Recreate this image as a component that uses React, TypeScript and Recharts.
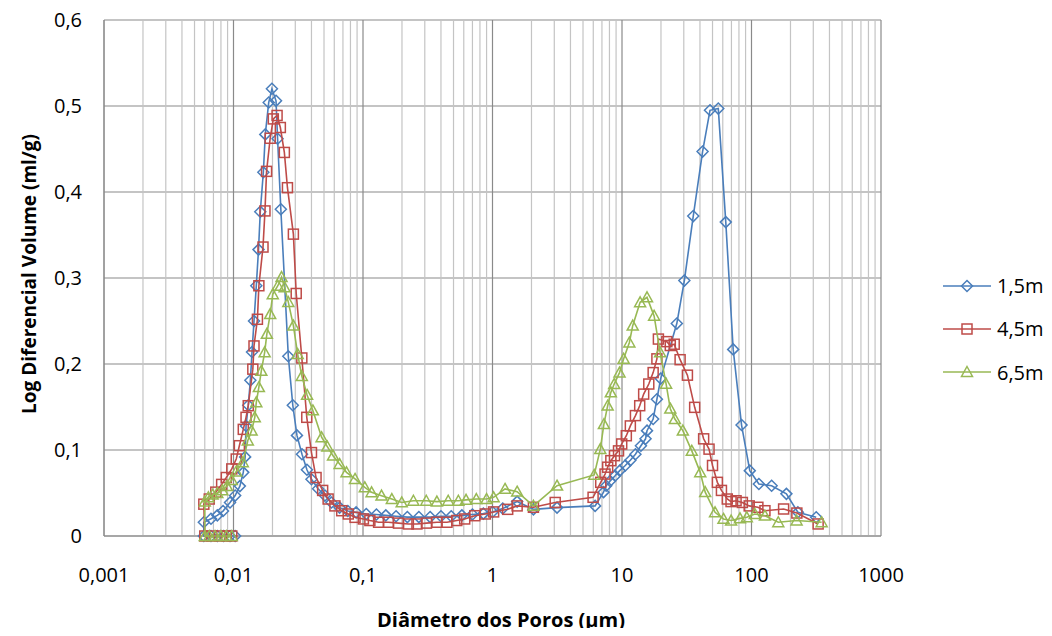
import React from "react";
import { ScatterChart, Scatter, XAxis, YAxis, CartesianGrid, ReferenceLine } from "recharts";

// diameter (µm), log differential volume (ml/g)
const poros15: [number, number][] = [
  [0.0103, 0], [0.0094, 0], [0.0084, 0], [0.0075, 0], [0.0067, 0], [0.0059, 0],
  [0.0059, 0.016], [0.0067, 0.02], [0.0075, 0.024], [0.0083, 0.029], [0.0094, 0.039], [0.0103, 0.047],
  [0.0112, 0.058], [0.0119, 0.074], [0.0123, 0.092], [0.0125, 0.128], [0.013, 0.152], [0.0135, 0.181],
  [0.0139, 0.214], [0.0144, 0.25], [0.015, 0.291], [0.0156, 0.333], [0.0161, 0.377], [0.017, 0.423],
  [0.0176, 0.467], [0.0187, 0.504], [0.0198, 0.52], [0.0213, 0.506], [0.0219, 0.462], [0.0232, 0.38],
  [0.0265, 0.209], [0.0287, 0.152], [0.0309, 0.117], [0.0338, 0.095], [0.0369, 0.077], [0.04, 0.066],
  [0.045, 0.055], [0.0508, 0.047], [0.0571, 0.039], [0.066, 0.033], [0.0764, 0.029], [0.0885, 0.0275],
  [0.106, 0.0256], [0.127, 0.025], [0.15, 0.024], [0.18, 0.023], [0.22, 0.022], [0.27, 0.022],
  [0.33, 0.022], [0.4, 0.023], [0.48, 0.023], [0.58, 0.024], [0.7, 0.025], [0.85, 0.026],
  [1.0, 0.028], [1.2, 0.032], [1.55, 0.04], [2.07, 0.031], [3.15, 0.033], [6.2, 0.035],
  [7.2, 0.051], [7.55, 0.0585], [8.1, 0.064], [8.85, 0.07], [9.6, 0.076], [10.6, 0.082],
  [11.6, 0.088], [12.7, 0.095], [14.0, 0.105], [15.2, 0.113], [15.6, 0.1225], [17.4, 0.136],
  [18.6, 0.159], [19.9, 0.183], [26.5, 0.247], [30.3, 0.297], [35.5, 0.372], [41.9, 0.447],
  [47.8, 0.495], [55.4, 0.497], [63.3, 0.365], [72.2, 0.217], [83.8, 0.129], [97, 0.076],
  [114, 0.0605], [143, 0.0585], [186, 0.049], [228, 0.0276], [316, 0.0217],
];

const poros45: [number, number][] = [
  [0.0097, 0], [0.0088, 0], [0.0078, 0], [0.0068, 0], [0.006, 0],
  [0.0059, 0.037], [0.0065, 0.043], [0.0073, 0.051], [0.0081, 0.06], [0.0088, 0.068], [0.0097, 0.078],
  [0.0105, 0.0895], [0.0111, 0.105], [0.0119, 0.124], [0.0125, 0.138], [0.013, 0.1515], [0.0141, 0.194],
  [0.0144, 0.221], [0.0153, 0.252], [0.0157, 0.291], [0.0169, 0.336], [0.0175, 0.378], [0.018, 0.424],
  [0.0192, 0.4625], [0.0203, 0.485], [0.0217, 0.489], [0.023, 0.475], [0.0247, 0.446], [0.0261, 0.405],
  [0.029, 0.351], [0.0305, 0.282], [0.0337, 0.207], [0.0368, 0.138], [0.04, 0.097], [0.0434, 0.068],
  [0.0488, 0.053], [0.0538, 0.043], [0.0607, 0.035], [0.0685, 0.0294], [0.077, 0.0256], [0.0868, 0.0217],
  [0.1007, 0.0198], [0.113, 0.018], [0.132, 0.016], [0.157, 0.016], [0.188, 0.015], [0.224, 0.014],
  [0.261, 0.014], [0.309, 0.015], [0.372, 0.016], [0.445, 0.016], [0.53, 0.018], [0.61, 0.0198],
  [0.73, 0.0236], [0.88, 0.0256], [1.02, 0.028], [1.31, 0.031], [1.55, 0.035], [2.07, 0.0334],
  [3.05, 0.039], [5.98, 0.045], [6.85, 0.0624], [7.4, 0.072], [7.75, 0.08], [8.2, 0.0876],
  [8.75, 0.0934], [9.4, 0.099], [9.95, 0.107], [10.8, 0.1166], [11.6, 0.128], [12.7, 0.14],
  [13.7, 0.1515], [14.7, 0.165], [16.1, 0.1767], [17.4, 0.19], [18.6, 0.206], [19.1, 0.229],
  [22.2, 0.226], [23.6, 0.2215], [25.3, 0.223], [28.1, 0.205], [32.0, 0.187], [36.4, 0.1496],
  [42.7, 0.113], [47, 0.101], [50, 0.082], [54.5, 0.0624], [58.6, 0.053], [65, 0.043],
  [69.5, 0.04], [76, 0.041], [85, 0.039], [96, 0.035], [112, 0.0334], [127, 0.0294],
  [177, 0.0314], [224, 0.0267], [327, 0.014],
];

const poros65: [number, number][] = [
  [0.0097, 0], [0.0088, 0], [0.008, 0], [0.0072, 0], [0.0065, 0], [0.006, 0],
  [0.006, 0.04], [0.0064, 0.045], [0.0069, 0.048], [0.0075, 0.05], [0.0082, 0.053], [0.0089, 0.058],
  [0.0097, 0.065], [0.0105, 0.075], [0.0118, 0.0857], [0.0129, 0.111], [0.0138, 0.1225], [0.0146, 0.138],
  [0.015, 0.1555], [0.0157, 0.173], [0.0164, 0.192], [0.0174, 0.2136], [0.0181, 0.235], [0.0192, 0.258],
  [0.0201, 0.281], [0.022, 0.291], [0.0235, 0.301], [0.0248, 0.289], [0.0265, 0.272], [0.029, 0.2446],
  [0.0313, 0.2116], [0.0337, 0.186], [0.037, 0.164], [0.041, 0.146], [0.0479, 0.1148], [0.053, 0.104],
  [0.0587, 0.0934], [0.066, 0.0837], [0.0746, 0.074], [0.0868, 0.0663], [0.1033, 0.0566], [0.1165, 0.0508],
  [0.139, 0.0469], [0.167, 0.043], [0.199, 0.039], [0.245, 0.041], [0.308, 0.041], [0.372, 0.04],
  [0.455, 0.041], [0.545, 0.041], [0.625, 0.042], [0.75, 0.043], [0.9, 0.043], [1.02, 0.045],
  [1.25, 0.0547], [1.55, 0.0515], [2.07, 0.035], [3.15, 0.0585], [6.1, 0.071], [6.8, 0.101],
  [7.25, 0.13], [7.75, 0.1515], [8.2, 0.167], [8.7, 0.1767], [9.57, 0.19], [10.3, 0.206],
  [11.4, 0.225], [12.1, 0.2446], [13.8, 0.2717], [15.6, 0.2775], [17.7, 0.256], [19.7, 0.2136],
  [21.9, 0.177], [23.6, 0.148], [25.6, 0.136], [29.5, 0.1225], [34.6, 0.099], [40.2, 0.074],
  [43.9, 0.051], [52.3, 0.0276], [60.8, 0.0198], [69.6, 0.018], [81.5, 0.0205], [92, 0.0217],
  [106, 0.0256], [127, 0.0236], [161, 0.016], [223, 0.018], [348, 0.016],
];

const xTicks = [0.001, 0.01, 0.1, 1, 10, 100, 1000];
const yTicks = [0, 0.1, 0.2, 0.3, 0.4, 0.5, 0.6];
const minorSteps = [2, 3, 4, 5, 6, 7, 8, 9];
const seriesNames = ["1,5m", "4,5m", "6,5m"];

const BLUE = "#4A7EBB";
const RED = "#BE4B48";
const GREEN = "#98B954";
const FONT = "'Open Sans', 'Liberation Sans', sans-serif";

const toPoints = (rows: [number, number][]) => rows.map(([x, y]) => ({ x, y }));

const minorLines = xTicks
  .slice(0, -1)
  .flatMap((d) => minorSteps.map((m) => Number((d * m).toPrecision(3))));

function Marker({ kind, cx, cy, color }: { kind: string; cx: number; cy: number; color: string }) {
  if (kind === "diamond") {
    const r = 5.5;
    return <path d={`M${cx},${cy - r}L${cx + r},${cy}L${cx},${cy + r}L${cx - r},${cy}Z`} fill="none" stroke={color} strokeWidth={1.5} />;
  }
  if (kind === "square") {
    const r = 5;
    return <rect x={cx - r} y={cy - r} width={2 * r} height={2 * r} fill="none" stroke={color} strokeWidth={1.5} />;
  }
  const r = 5.5;
  return <path d={`M${cx},${cy - r}L${cx + r},${cy + r * 0.8}L${cx - r},${cy + r * 0.8}Z`} fill="none" stroke={color} strokeWidth={1.5} />;
}

const shapeOf = (kind: string, color: string) => (p: any) => <Marker kind={kind} cx={p.cx} cy={p.cy} color={color} />;

const legendItems = [
  { name: seriesNames[0], color: BLUE, kind: "diamond" },
  { name: seriesNames[1], color: RED, kind: "square" },
  { name: seriesNames[2], color: GREEN, kind: "triangle" },
];

const fmt = (v: number) => String(v).replace(".", ",");

const yTitle = () => (
  <text
    transform="translate(29,274) rotate(-90)"
    textAnchor="middle"
    dominantBaseline="central"
    fontFamily={FONT}
    fontWeight="bold"
    fontSize={19}
    fill="#000"
  >
    Log Diferencial Volume (ml/g)
  </text>
);

const xTitle = () => (
  <text x={501} y={627} textAnchor="middle" fontFamily={FONT} fontWeight="bold" fontSize={20} fill="#000">
    Diâmetro dos Poros (μm)
  </text>
);

export default function App() {
  return (
    <div style={{ position: "relative", width: 1052, height: 636, margin: -8, fontFamily: FONT }}>
      <ScatterChart width={1052} height={636} margin={{ top: 20, right: 171, bottom: 0, left: 8 }}>
        <CartesianGrid stroke="#8a8a8a" strokeWidth={1.2} />
        {minorLines.map((v) => (
          <ReferenceLine key={v} x={v} stroke="#c4c4c4" strokeWidth={1.2} />
        ))}
        <XAxis
          dataKey="x"
          type="number"
          scale="log"
          domain={[0.001, 1000]}
          ticks={xTicks}
          allowDataOverflow
          tickFormatter={fmt}
          tickLine={false}
          tickSize={0}
          tickMargin={32}
          height={100}
          axisLine={{ stroke: "#8a8a8a" }}
          tick={{ fontSize: 20, fill: "#000", fontFamily: FONT }}
          label={xTitle}
        />
        <YAxis
          dataKey="y"
          type="number"
          domain={[0, 0.6]}
          ticks={yTicks}
          tickFormatter={fmt}
          tickLine={false}
          tickSize={0}
          tickMargin={22}
          width={96}
          axisLine={{ stroke: "#8a8a8a" }}
          tick={{ fontSize: 20, fill: "#000", fontFamily: FONT }}
          label={yTitle}
        />
        <Scatter
          name={seriesNames[0]}
          data={toPoints(poros15)}
          line={{ stroke: BLUE, strokeWidth: 1.6 }}
          shape={shapeOf("diamond", BLUE)}
          fill={BLUE}
          isAnimationActive={false}
        />
        <Scatter
          name={seriesNames[1]}
          data={toPoints(poros45)}
          line={{ stroke: RED, strokeWidth: 1.6 }}
          shape={shapeOf("square", RED)}
          fill={RED}
          isAnimationActive={false}
        />
        <Scatter
          name={seriesNames[2]}
          data={toPoints(poros65)}
          line={{ stroke: GREEN, strokeWidth: 1.6 }}
          shape={shapeOf("triangle", GREEN)}
          fill={GREEN}
          isAnimationActive={false}
        />
      </ScatterChart>
      <div style={{ position: "absolute", left: 943, top: 264, fontSize: 20, color: "#000" }}>
        {legendItems.map((item) => (
          <div key={item.name} style={{ display: "flex", alignItems: "center", height: 43.3, whiteSpace: "nowrap" }}>
            <svg width={48} height={16}>
              <line x1={0} y1={8} x2={48} y2={8} stroke={item.color} strokeWidth={1.6} />
              <Marker kind={item.kind} cx={24} cy={8} color={item.color} />
            </svg>
            <span style={{ marginLeft: 6 }}>{item.name}</span>
          </div>
        ))}
      </div>
    </div>
  );
}
